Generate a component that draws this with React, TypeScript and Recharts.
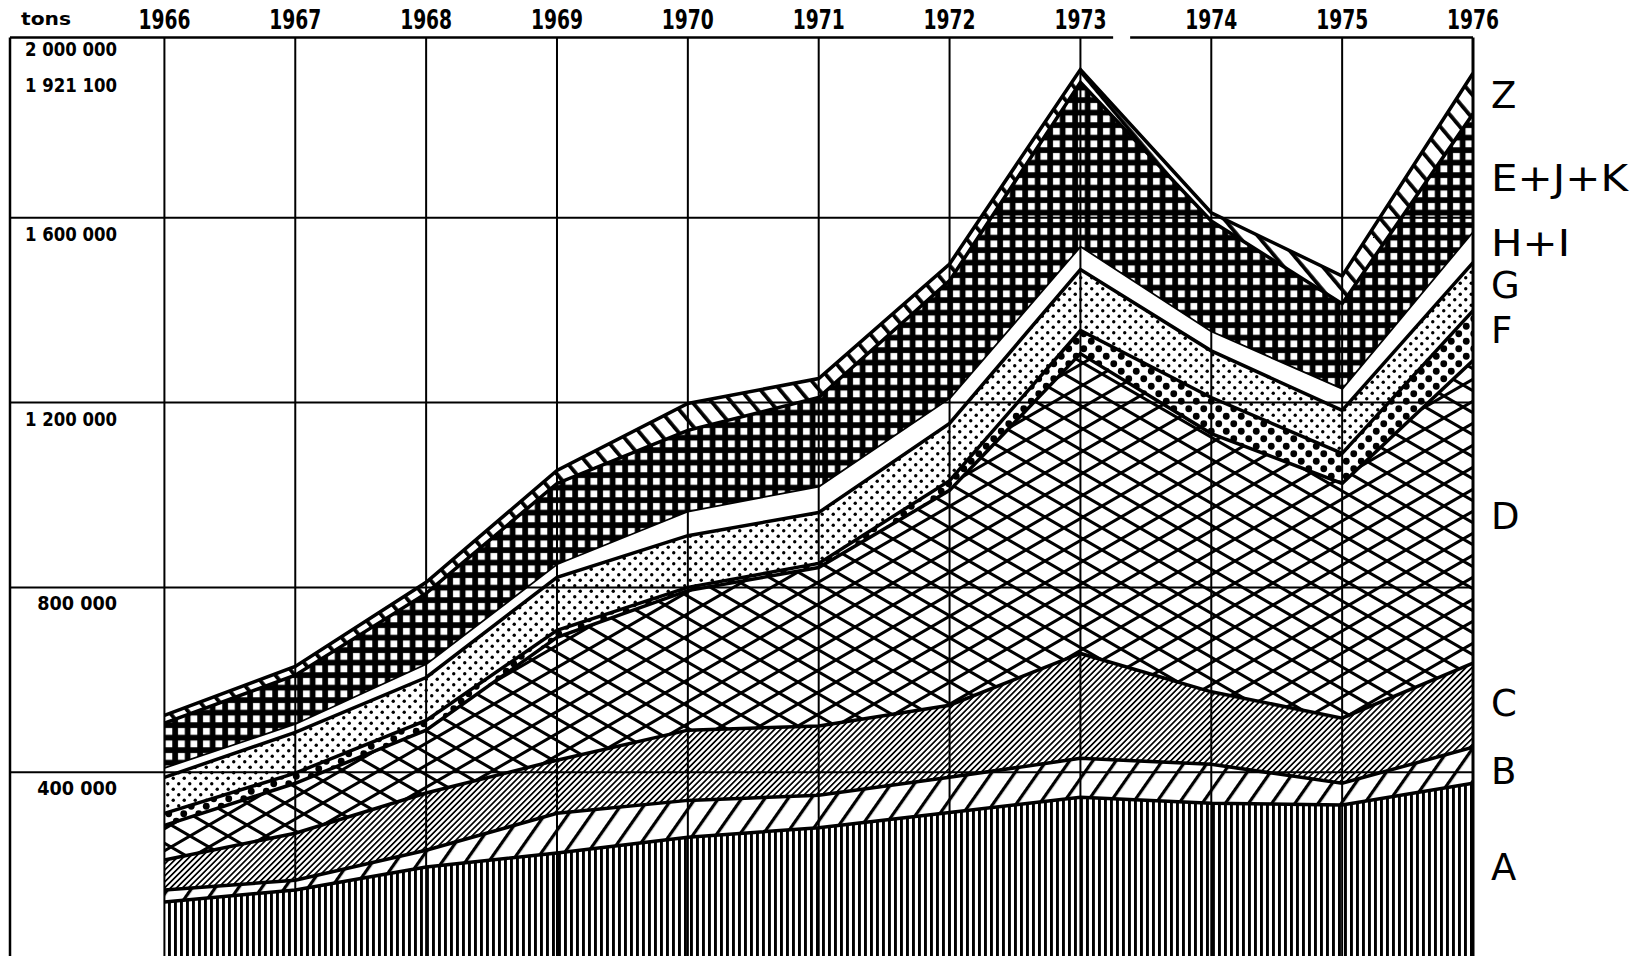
import React from 'react';
import { AreaChart, Area, XAxis, YAxis, ReferenceLine } from 'recharts';

// years along the top
const YEARS = [1966, 1967, 1968, 1969, 1970, 1971, 1972, 1973, 1974, 1975, 1976];

// tonnage per group, bottom (A) to top (Z)
const A = [119000, 145000, 195000, 225000, 259000, 280000, 313000, 346000, 333000, 329000, 376000];
const B = [26000, 21000, 36000, 86000, 80000, 70000, 76000, 84000, 84000, 47000, 78000];
const C = [65000, 102000, 124000, 115000, 152000, 150000, 156000, 227000, 157000, 141000, 182000];
const D = [75000, 108000, 136000, 266000, 302000, 343000, 465000, 649000, 559000, 508000, 655000];
const F = [26000, 22000, 21000, 15000, 7000, 9000, 21000, 50000, 78000, 65000, 108000];
const G = [78000, 88000, 93000, 115000, 112000, 110000, 124000, 132000, 101000, 93000, 104000];
const HI = [22000, 20000, 31000, 30000, 54000, 58000, 56000, 52000, 44000, 49000, 69000];
const EJK = [95000, 104000, 151000, 173000, 174000, 191000, 253000, 353100, 237000, 182000, 253000];
const Z = [17000, 19000, 24000, 28000, 58000, 41000, 36000, 28000, 18000, 60000, 88000];

// left-hand labels and grid
const TON_TICKS = [400000, 800000, 1200000, 1600000, 1921100, 2000000];
const GRID_VALUES = [400000, 800000, 1200000, 1600000];

// group names on the right, placed at a tonnage level
const GROUP_LABELS = [
  { name: 'Z', at: 1868000 },
  { name: 'E+J+K', at: 1688000 },
  { name: 'H+I', at: 1548000 },
  { name: 'G', at: 1457000 },
  { name: 'F', at: 1359000 },
  { name: 'D', at: 957000 },
  { name: 'C', at: 552000 },
  { name: 'B', at: 405000 },
  { name: 'A', at: 197000 },
];

const SERIES = [
  { key: 'A', values: A, fill: 'url(#pA)' },
  { key: 'B', values: B, fill: 'url(#pB)' },
  { key: 'C', values: C, fill: 'url(#pC)' },
  { key: 'D', values: D, fill: 'url(#pD)' },
  { key: 'F', values: F, fill: 'url(#pF)' },
  { key: 'G', values: G, fill: 'url(#pG)' },
  { key: 'HI', values: HI, fill: 'none' },
  { key: 'EJK', values: EJK, fill: 'url(#pEJK)' },
  { key: 'Z', values: Z, fill: 'url(#pZ)' },
];

const X_MIN = 1964.82;
const Y_MAX = 2000000;
const FRAME_TOP = 1990000;

const data = YEARS.map((year, i) => {
  const row: Record<string, number> = { year };
  SERIES.forEach(s => {
    row[s.key] = s.values[i];
  });
  return row;
});

const LABEL_FONT = '"DejaVu Sans Condensed", "DejaVu Sans", sans-serif';

const fmt = (v: number) => String(v).replace(/\B(?=(\d{3})+(?!\d))/g, ' ');

const YearTick = (props: any) => {
  const { x, payload } = props;
  return (
    <text
      x={x}
      y={29}
      textAnchor="middle"
      fontFamily={LABEL_FONT}
      fontWeight="bold"
      fontSize={27}
      textLength={52}
      lengthAdjust="spacingAndGlyphs"
      fill="#000"
    >
      {payload.value}
    </text>
  );
};

// one axis carries both the tonnage labels (left) and the group names (right)
const LevelTick = (props: any) => {
  const { y, payload } = props;
  const group = GROUP_LABELS.find(l => l.at === payload.value);
  if (group) {
    const len = group.name.length;
    return (
      <text
        x={1491}
        y={y + 14}
        textAnchor="start"
        fontFamily='"DejaVu Sans", sans-serif'
        fontSize={37}
        fill="#000"
        textLength={len === 5 ? 137 : len === 3 ? 79 : undefined}
        lengthAdjust="spacingAndGlyphs"
      >
        {group.name}
      </text>
    );
  }
  const label = fmt(payload.value);
  const digits = label.replace(/ /g, '').length;
  return (
    <text
      x={117}
      y={y + 23}
      textAnchor="end"
      fontFamily={LABEL_FONT}
      fontWeight="bold"
      fontSize={19}
      textLength={digits * 12.3 + 6}
      lengthAdjust="spacingAndGlyphs"
      fill="#000"
    >
      {label}
    </text>
  );
};

const App: React.FC = () => {
  return (
    <div
      style={{
        position: 'absolute',
        left: 0,
        top: 0,
        width: 1637,
        height: 956,
        overflow: 'hidden',
        background: '#fff',
      }}
    >
      <AreaChart
        width={1637}
        height={958}
        data={data}
        margin={{ top: 0, right: 164, bottom: 1, left: 9 }}
      >
        <defs>
          <pattern id="pA" patternUnits="userSpaceOnUse" width={6} height={10}>
            <rect x={0} y={0} width={2.9} height={10} fill="#000" />
          </pattern>
          <pattern id="pB" patternUnits="userSpaceOnUse" width={19} height={19} patternTransform="rotate(35)">
            <rect x={0} y={0} width={3.2} height={19} fill="#000" />
          </pattern>
          <pattern id="pC" patternUnits="userSpaceOnUse" width={4.2} height={10} patternTransform="rotate(45)">
            <rect x={0} y={0} width={1.7} height={10} fill="#000" />
          </pattern>
          <pattern id="pD" patternUnits="userSpaceOnUse" width={38} height={22}>
            <path d="M0 0L38 22M0 22L38 0" stroke="#000" strokeWidth={3} fill="none" />
          </pattern>
          <pattern id="pF" patternUnits="userSpaceOnUse" width={15} height={15}>
            <circle cx={3.75} cy={3.75} r={3.4} fill="#000" />
            <circle cx={11.25} cy={11.25} r={3.4} fill="#000" />
          </pattern>
          <pattern id="pG" patternUnits="userSpaceOnUse" width={11} height={11}>
            <circle cx={2.75} cy={2.75} r={1.7} fill="#000" />
            <circle cx={8.25} cy={8.25} r={1.7} fill="#000" />
          </pattern>
          <pattern id="pEJK" patternUnits="userSpaceOnUse" width={12.5} height={12.5}>
            <rect x={0} y={0} width={12.5} height={12.5} fill="#000" />
            <rect x={3} y={3} width={6.8} height={6.8} fill="#fff" />
          </pattern>
          <pattern id="pZ" patternUnits="userSpaceOnUse" width={15} height={15} patternTransform="rotate(-40)">
            <rect x={0} y={0} width={3.8} height={15} fill="#000" />
          </pattern>
        </defs>

        <XAxis
          dataKey="year"
          type="number"
          orientation="top"
          domain={[X_MIN, 1976]}
          ticks={YEARS}
          allowDataOverflow
          axisLine={false}
          tickLine={false}
          height={33}
          interval={0}
          tick={<YearTick />}
        />
        <YAxis
          type="number"
          domain={[0, Y_MAX]}
          ticks={[...TON_TICKS, ...GROUP_LABELS.map(l => l.at)]}
          allowDataOverflow
          width={1}
          interval={0}
          axisLine={false}
          tickLine={false}
          tick={<LevelTick />}
          label={{
            content: () => (
              <text
                x={21}
                y={25}
                fontFamily={LABEL_FONT}
                fontWeight="bold"
                fontSize={18}
                textLength={50}
                lengthAdjust="spacingAndGlyphs"
                fill="#000"
              >
                tons
              </text>
            ),
          }}
        />

        {GRID_VALUES.map(v => (
          <ReferenceLine key={'h' + v} y={v} stroke="#000" strokeWidth={2} />
        ))}
        <ReferenceLine
          segment={[{ x: X_MIN, y: FRAME_TOP }, { x: 1973.25, y: FRAME_TOP }]}
          stroke="#000"
          strokeWidth={2.5}
        />
        <ReferenceLine
          segment={[{ x: 1973.38, y: FRAME_TOP }, { x: 1976, y: FRAME_TOP }]}
          stroke="#000"
          strokeWidth={2.5}
        />
        <ReferenceLine
          segment={[{ x: X_MIN, y: 0 }, { x: X_MIN, y: FRAME_TOP }]}
          stroke="#000"
          strokeWidth={2.5}
        />
        {YEARS.map(yr => (
          <ReferenceLine
            key={'v' + yr}
            segment={[{ x: yr, y: 0 }, { x: yr, y: FRAME_TOP }]}
            stroke="#000"
            strokeWidth={yr === 1976 ? 3 : 2}
          />
        ))}

        {SERIES.map(s => (
          <Area
            key={s.key}
            dataKey={s.key}
            stackId="1"
            type="linear"
            fill={s.fill}
            fillOpacity={1}
            stroke="#000"
            strokeWidth={3.5}
            dot={false}
            activeDot={false}
            isAnimationActive={false}
          />
        ))}
      </AreaChart>
    </div>
  );
};

export default App;
